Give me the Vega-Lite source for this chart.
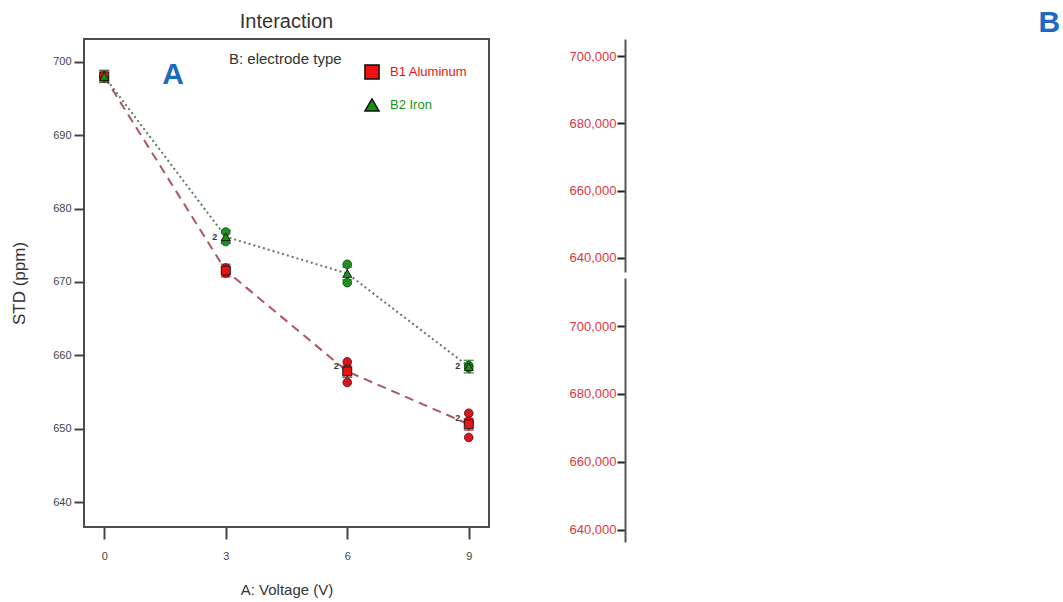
{
  "$schema": "https://vega.github.io/schema/vega-lite/v6.json",
  "background": "white",
  "padding": {"left": 9, "top": 8, "right": 5, "bottom": 2},
  "config": {
    "font": "Liberation Sans",
    "view": {"stroke": null},
    "legend": {
      "orient": "none",
      "legendX": 145,
      "legendY": 25,
      "titleOrient": "left",
      "titleAnchor": "start",
      "titleBaseline": "alphabetic",
      "titlePadding": 22,
      "titleFontSize": 15,
      "titleFontWeight": "normal",
      "titleColor": "#333333",
      "symbolSize": 200,
      "symbolStrokeColor": "#111111",
      "symbolStrokeWidth": 1.5,
      "labelFontSize": 13,
      "labelOffset": 10,
      "rowPadding": 12
    }
  },
  "datasets": {
    "obs": [
      {"V": 0, "type": "B1 Aluminum", "val": 698.0},
      {"V": 0, "type": "B1 Aluminum", "val": 698.0},
      {"V": 3, "type": "B1 Aluminum", "val": 671.9},
      {"V": 3, "type": "B1 Aluminum", "val": 671.2},
      {"V": 6, "type": "B1 Aluminum", "val": 659.1},
      {"V": 6, "type": "B1 Aluminum", "val": 658.1},
      {"V": 6, "type": "B1 Aluminum", "val": 656.3},
      {"V": 9, "type": "B1 Aluminum", "val": 652.1},
      {"V": 9, "type": "B1 Aluminum", "val": 651.0},
      {"V": 9, "type": "B1 Aluminum", "val": 648.8},
      {"V": 0, "type": "B2 Iron", "val": 698.0},
      {"V": 0, "type": "B2 Iron", "val": 698.0},
      {"V": 3, "type": "B2 Iron", "val": 676.8},
      {"V": 3, "type": "B2 Iron", "val": 675.5},
      {"V": 6, "type": "B2 Iron", "val": 672.4},
      {"V": 6, "type": "B2 Iron", "val": 669.9},
      {"V": 9, "type": "B2 Iron", "val": 658.6},
      {"V": 9, "type": "B2 Iron", "val": 658.3}
    ],
    "means": [
      {"V": 0, "type": "B1 Aluminum", "mean": 698.0, "lo": 697.2, "hi": 698.8},
      {"V": 3, "type": "B1 Aluminum", "mean": 671.55, "lo": 670.7, "hi": 672.4},
      {"V": 6, "type": "B1 Aluminum", "mean": 657.8, "lo": 657.0, "hi": 658.6},
      {"V": 9, "type": "B1 Aluminum", "mean": 650.6, "lo": 649.8, "hi": 651.4},
      {"V": 0, "type": "B2 Iron", "mean": 698.0, "lo": 697.2, "hi": 698.8},
      {"V": 3, "type": "B2 Iron", "mean": 676.15, "lo": 675.3, "hi": 677.0},
      {"V": 6, "type": "B2 Iron", "mean": 671.15, "lo": 670.3, "hi": 672.0},
      {"V": 9, "type": "B2 Iron", "mean": 658.45, "lo": 657.6, "hi": 659.3}
    ],
    "counts": [
      {"V": 3, "val": 676.1, "n": "2"},
      {"V": 6, "val": 658.6, "n": "2"},
      {"V": 9, "val": 651.4, "n": "2"},
      {"V": 9, "val": 658.5, "n": "2"}
    ],
    "tagA": [{"V": 1.7, "val": 698.2, "tag": "A"}],
    "tagB": [{"x": 0.98, "y": 709800, "tag": "B"}]
  },
  "spacing": 79,
  "resolve": {
    "scale": {"color": "independent", "shape": "independent"},
    "legend": {"color": "independent", "shape": "independent"}
  },
  "hconcat": [
    {
      "width": 405,
      "height": 488,
      "title": {
        "text": "Interaction",
        "fontSize": 20,
        "fontWeight": "normal",
        "color": "#333333",
        "offset": 7
      },
      "view": {"stroke": "#4d4d4d", "strokeWidth": 2},
      "encoding": {
        "x": {
          "field": "V",
          "type": "quantitative",
          "scale": {"domain": [-0.5, 9.5], "nice": false, "zero": false},
          "axis": {
            "values": [0, 3, 6, 9],
            "title": "A: Voltage (V)",
            "grid": false,
            "domain": false,
            "tickSize": 12,
            "tickWidth": 2,
            "tickColor": "#444444",
            "labelPadding": 11,
            "labelFontSize": 11,
            "labelColor": "#444444",
            "titleFontSize": 15,
            "titleFontWeight": "normal",
            "titleColor": "#333333",
            "titlePadding": 21
          }
        }
      },
      "layer": [
        {
          "data": {"name": "means"},
          "transform": [{"filter": "datum.type === 'B1 Aluminum'"}],
          "mark": {"type": "line", "color": "#ad5560", "strokeWidth": 2, "strokeDash": [9, 6]},
          "encoding": {
            "y": {
              "field": "mean",
              "type": "quantitative",
              "title": "STD (ppm)",
              "scale": {"domain": [636.6, 703.1], "nice": false, "zero": false},
              "axis": {
                "values": [640, 650, 660, 670, 680, 690, 700],
                "title": "STD (ppm)",
                "grid": false,
                "domain": false,
                "tickSize": 10,
                "tickWidth": 2,
                "tickColor": "#444444",
                "labelPadding": 3,
                "labelFontSize": 11,
                "labelColor": "#444444",
                "titleFontSize": 17,
                "titleFontWeight": "normal",
                "titleColor": "#333333",
                "titlePadding": 24
              }
            }
          }
        },
        {
          "data": {"name": "means"},
          "transform": [{"filter": "datum.type === 'B2 Iron'"}],
          "mark": {"type": "line", "color": "#5b7a5b", "strokeWidth": 2, "strokeDash": [2, 3]},
          "encoding": {"y": {"field": "mean", "type": "quantitative", "title": "STD (ppm)"}}
        },
        {
          "data": {"name": "means"},
          "transform": [{"filter": "datum.type === 'B1 Aluminum'"}],
          "mark": {"type": "errorbar", "color": "#8a1a20", "ticks": {"size": 10}, "thickness": 1.5},
          "encoding": {
            "y": {"field": "lo", "type": "quantitative", "title": "STD (ppm)"},
            "y2": {"field": "hi"}
          }
        },
        {
          "data": {"name": "means"},
          "transform": [{"filter": "datum.type === 'B2 Iron'"}],
          "mark": {"type": "errorbar", "color": "#1a6a1a", "ticks": {"size": 10}, "thickness": 1.5},
          "encoding": {
            "y": {"field": "lo", "type": "quantitative", "title": "STD (ppm)"},
            "y2": {"field": "hi"}
          }
        },
        {
          "data": {"name": "obs"},
          "transform": [{"filter": "datum.type === 'B1 Aluminum'"}],
          "mark": {"type": "circle", "size": 75, "opacity": 1, "fill": "#d8141e", "stroke": "#4a1010", "strokeWidth": 0.8},
          "encoding": {"y": {"field": "val", "type": "quantitative", "title": "STD (ppm)"}}
        },
        {
          "data": {"name": "obs"},
          "transform": [{"filter": "datum.type === 'B2 Iron'"}],
          "mark": {"type": "circle", "size": 75, "opacity": 1, "fill": "#1e921e", "stroke": "#103a10", "strokeWidth": 0.8},
          "encoding": {"y": {"field": "val", "type": "quantitative", "title": "STD (ppm)"}}
        },
        {
          "data": {"name": "means"},
          "mark": {"type": "point", "filled": true, "size": 80, "opacity": 1, "stroke": "#1a1a1a", "strokeWidth": 1},
          "encoding": {
            "y": {"field": "mean", "type": "quantitative", "title": "STD (ppm)"},
            "color": {
              "field": "type",
              "type": "nominal",
              "title": "B: electrode type",
              "scale": {"domain": ["B1 Aluminum", "B2 Iron"], "range": ["#ee1111", "#129612"]},
              "legend": {
                "labelColor": {"expr": "datum.label === 'B1 Aluminum' ? '#ee1111' : '#129612'"}
              }
            },
            "shape": {
              "field": "type",
              "type": "nominal",
              "title": "B: electrode type",
              "scale": {"domain": ["B1 Aluminum", "B2 Iron"], "range": ["square", "triangle-up"]},
              "legend": {
                "labelColor": {"expr": "datum.label === 'B1 Aluminum' ? '#ee1111' : '#129612'"}
              }
            }
          }
        },
        {
          "data": {"name": "counts"},
          "mark": {"type": "text", "dx": -11, "fontSize": 9, "fontWeight": "bold", "color": "#333333"},
          "encoding": {
            "y": {"field": "val", "type": "quantitative", "title": "STD (ppm)"},
            "text": {"field": "n"}
          }
        },
        {
          "data": {"name": "tagA"},
          "mark": {"type": "text", "fontSize": 30, "fontWeight": "bold", "color": "#1c6bbf", "baseline": "middle"},
          "encoding": {
            "y": {"field": "val", "type": "quantitative", "title": "STD (ppm)"},
            "text": {"field": "tag"}
          }
        }
      ]
    },
    {
      "spacing": 6,
      "vconcat": [
        {
          "width": 433,
          "height": 233,
          "data": {"name": "tagB"},
          "mark": {"type": "text", "fontSize": 30, "fontWeight": "bold", "color": "#1c6bbf", "baseline": "middle"},
          "encoding": {
            "x": {"field": "x", "type": "quantitative", "scale": {"domain": [0, 1], "nice": false}, "axis": null},
            "y": {
              "field": "y",
              "type": "quantitative",
              "scale": {"domain": [635841, 705050], "nice": false, "zero": false},
              "axis": {
                "values": [640000, 660000, 680000, 700000],
                "format": ",.0f",
                "title": null,
                "grid": false,
                "domainColor": "#555555",
                "domainWidth": 2,
                "tickColor": "#222222",
                "tickSize": 8,
                "tickWidth": 2,
                "labelPadding": 1,
                "labelColor": "#e0363e",
                "labelFontSize": 13
              }
            },
            "text": {"field": "tag"}
          }
        },
        {
          "width": 433,
          "height": 264,
          "data": {"name": "tagB"},
          "mark": {"type": "text", "opacity": 0},
          "encoding": {
            "y": {
              "field": "y",
              "type": "quantitative",
              "scale": {"domain": [636470, 714118], "nice": false, "zero": false},
              "axis": {
                "values": [640000, 660000, 680000, 700000],
                "format": ",.0f",
                "title": null,
                "grid": false,
                "domainColor": "#555555",
                "domainWidth": 2,
                "tickColor": "#222222",
                "tickSize": 8,
                "tickWidth": 2,
                "labelPadding": 1,
                "labelColor": "#e0363e",
                "labelFontSize": 13
              }
            },
            "text": {"field": "tag"}
          }
        }
      ]
    }
  ]
}
